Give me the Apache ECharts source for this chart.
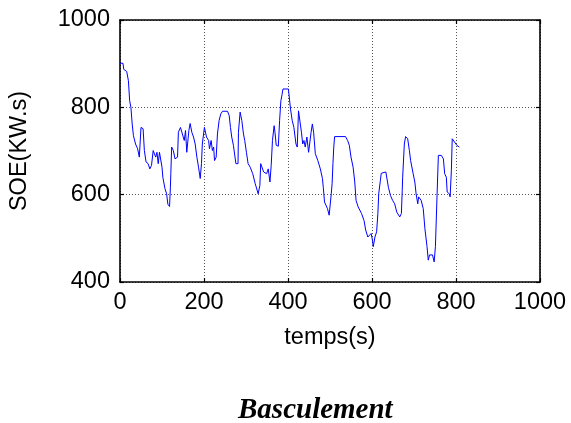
<!DOCTYPE html>
<html>
<head>
<meta charset="utf-8">
<script src="https://cdn.jsdelivr.net/npm/echarts@6/dist/echarts.min.js"></script>
<style>
  html, body { margin: 0; padding: 0; background: #fff; }
  #chart { width: 571px; height: 423px; }
</style>
</head>
<body>
<div id="chart"></div>
<script>
// Energy stored (SOE) over time during the switching scenario
const timeS = [0, 7, 9, 16, 20, 23, 26, 29, 32, 37, 42, 46, 50, 55, 58, 62, 67, 71, 75, 79,
  81, 85, 88, 91, 94, 97, 100, 102, 107, 111, 114, 118, 120, 121, 123, 127, 131, 134, 137, 139,
  144, 148, 153, 156, 159, 162, 164, 167, 171, 175, 179, 183, 187, 191, 194, 196, 198, 201, 204, 206,
  211, 213, 217, 220, 223, 225, 229, 232, 236, 240, 244, 256, 260, 263, 266, 270, 274, 276, 281, 282,
  286, 290, 294, 297, 301, 305, 310, 316, 322, 329, 333, 335, 339, 342, 349, 353, 357, 360, 363, 367,
  369, 372, 377, 380, 383, 386, 388, 401, 406, 410, 414, 419, 422, 425, 429, 432, 435, 438, 441, 445,
  449, 452, 455, 458, 461, 465, 471, 477, 482, 484, 487, 490, 494, 498, 501, 503, 505, 507, 509, 511,
  537, 542, 546, 550, 555, 559, 562, 567, 571, 575, 581, 585, 590, 594, 598, 601, 603, 607, 611, 614,
  616, 620, 622, 633, 635, 639, 644, 649, 654, 659, 666, 670, 672, 673, 677, 680, 685, 689, 692, 698,
  702, 705, 709, 711, 717, 722, 726, 731, 734, 737, 744, 748, 751, 755, 758, 765, 770, 773, 777, 779,
  784, 786, 789, 791, 795, 802, 808];
const soeKWs = [901, 901, 887, 882, 861, 815, 800, 762, 735, 716, 705, 686, 754, 751, 701, 675, 671, 659, 667, 701,
  705, 686, 697, 671, 697, 701, 663, 640, 614, 602, 578, 573, 617, 648, 709, 701, 682, 678, 686, 743,
  754, 758, 724, 747, 697, 694, 747, 763, 743, 732, 716, 686, 663, 637, 671, 716, 720, 754, 756, 732,
  724, 705, 724, 701, 709, 678, 686, 739, 770, 785, 791, 791, 781, 754, 732, 713, 709, 671, 671, 743,
  789, 770, 739, 724, 697, 671, 663, 648, 625, 602, 621, 671, 672, 652, 648, 659, 629, 667, 724, 758,
  743, 713, 711, 770, 815, 830, 842, 842, 796, 770, 754, 716, 709, 792, 789, 743, 716, 724, 709, 732,
  697, 694, 743, 762, 743, 694, 678, 659, 637, 617, 583, 583, 568, 553, 549, 602, 625, 671, 709, 733,
  733, 724, 713, 686, 663, 629, 587, 572, 568, 557, 541, 519, 503, 500, 511, 496, 481, 503, 515, 557,
  602, 633, 649, 652, 648, 617, 598, 587, 579, 560, 549, 557, 610, 640, 716, 733, 728, 701, 678, 648,
  629, 602, 579, 595, 587, 568, 522, 481, 450, 462, 462, 446, 481, 602, 690, 690, 682, 648, 640, 606,
  602, 595, 656, 728, 725, 713, 709];

const xTicks = [0, 200, 400, 600, 800, 1000];
const yTicks = [400, 600, 800, 1000];

const xName = 'temps(s)';
const yName = 'SOE(KW.s)';
const titleText = 'Basculement';

const points = timeS.map((t, i) => [t, soeKWs[i]]);

const labelFont = { fontFamily: 'Liberation Sans, Arial, sans-serif', fontSize: 23.5, color: '#000' };
const plainNumber = (v) => String(v);
const boxLine = { show: true, onZero: false, lineStyle: { color: '#000', width: 1.6 } };
const innerTick = { show: true, inside: true, length: 4, lineStyle: { color: '#000', width: 1.2 } };
const dotGrid = { show: true, lineStyle: { color: '#555', width: 1, type: [1, 2] } };

const chart = echarts.init(document.getElementById('chart'), null, { renderer: 'canvas' });
chart.setOption({
  animation: false,
  backgroundColor: '#fff',
  title: {
    text: titleText,
    left: 233,
    top: 391,
    textStyle: {
      fontFamily: 'Liberation Serif, Times New Roman, serif',
      fontStyle: 'italic',
      fontWeight: 'bold',
      fontSize: 29,
      color: '#000'
    }
  },
  grid: { left: 118, right: 31, top: 20, bottom: 141, containLabel: false },
  xAxis: [
    {
      type: 'value',
      min: xTicks[0],
      max: xTicks[xTicks.length - 1],
      interval: xTicks[1] - xTicks[0],
      position: 'bottom',
      axisLine: boxLine,
      axisTick: innerTick,
      splitLine: dotGrid,
      axisLabel: Object.assign({ margin: 9, formatter: plainNumber }, labelFont),
      name: xName,
      nameLocation: 'middle',
      nameGap: 44,
      nameTextStyle: labelFont
    },
    {
      type: 'value',
      min: xTicks[0],
      max: xTicks[xTicks.length - 1],
      interval: xTicks[1] - xTicks[0],
      position: 'top',
      axisLine: boxLine,
      axisTick: innerTick,
      splitLine: { show: false },
      axisLabel: { show: false }
    }
  ],
  yAxis: [
    {
      type: 'value',
      min: yTicks[0],
      max: yTicks[yTicks.length - 1],
      interval: yTicks[1] - yTicks[0],
      position: 'left',
      axisLine: boxLine,
      axisTick: innerTick,
      splitLine: dotGrid,
      axisLabel: Object.assign({ margin: 10, formatter: plainNumber }, labelFont),
      name: yName,
      nameLocation: 'middle',
      nameGap: 88,
      nameTextStyle: labelFont
    },
    {
      type: 'value',
      min: yTicks[0],
      max: yTicks[yTicks.length - 1],
      interval: yTicks[1] - yTicks[0],
      position: 'right',
      axisLine: boxLine,
      axisTick: innerTick,
      splitLine: { show: false },
      axisLabel: { show: false }
    }
  ],
  series: [
    {
      type: 'line',
      data: points,
      xAxisIndex: 0,
      yAxisIndex: 0,
      showSymbol: false,
      symbol: 'none',
      lineStyle: { color: '#0000ff', width: 1 },
      clip: true
    }
  ]
});
</script>
</body>
</html>
